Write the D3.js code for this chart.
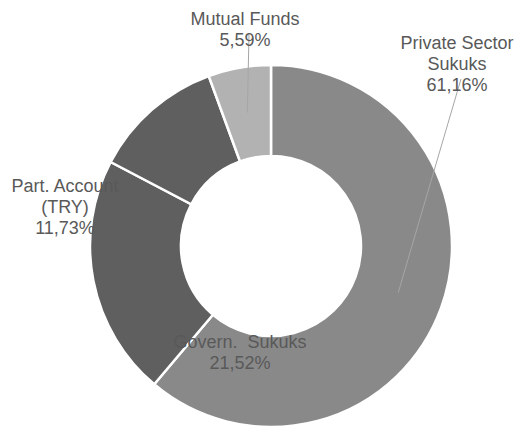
<!DOCTYPE html>
<html>
<head>
<meta charset="utf-8">
<script src="https://cdn.jsdelivr.net/npm/d3@7"></script>
<style>
  body { margin: 0; background: #ffffff; }
  svg { display: block; }
  .lbl { font-family: Arial, "Liberation Sans", sans-serif; font-size: 18px; fill: #595959; white-space: pre; }
</style>
</head>
<body>
<div id="chart"></div>
<script>
// Portfolio shares, clockwise from 12 o'clock
const categories = ['Private Sector Sukuks', 'Govern. Sukuks', 'Part. Account (TRY)', 'Mutual Funds'];
const labelLines = [['Private Sector', 'Sukuks'], ['Govern.  Sukuks'], ['Part. Account', '(TRY)'], ['Mutual Funds']];
const values = [61.16, 21.52, 11.73, 5.59];

const width = 519, height = 430;
const cx = 271, cy = 246;
const outerR = 181, innerR = 90;

const colors = ['#898989', '#5f5f5f', '#5f5f5f', '#b2b2b2'];

// label anchor (x of text centre, y of first baseline) and whether a leader line is drawn
const labelLayout = [
  { x: 457, y: 49, leader: true },
  { x: 240, y: 348, leader: false },
  { x: 65, y: 192, leader: false },
  { x: 245, y: 25, leader: true }
];
const lineGap = 21;

const loc = d3.formatLocale({ decimal: ',', thousands: '.', grouping: [3], currency: ['', ''] });
const fmt = d => loc.format('.2f')(d) + '%';

const data = categories.map((c, i) => ({ name: c, lines: labelLines[i], value: values[i] }));

const svg = d3.select('#chart').append('svg')
  .attr('width', width)
  .attr('height', height);

const g = svg.append('g').attr('transform', `translate(${cx},${cy})`);

const pie = d3.pie().sort(null).value(d => d.value);
const arc = d3.arc().innerRadius(innerR).outerRadius(outerR);
const arcs = pie(data);

g.selectAll('path.slice')
  .data(arcs)
  .enter()
  .append('path')
  .attr('class', 'slice')
  .attr('d', arc)
  .attr('fill', (d, i) => colors[i])
  .attr('stroke', '#ffffff')
  .attr('stroke-width', 2.5);

// leader lines from the slice centroid up to the label
arcs.forEach((d, i) => {
  const lay = labelLayout[i];
  if (!lay.leader) return;
  const [px, py] = arc.centroid(d);
  const lastBase = lay.y + lineGap * d.data.lines.length;
  svg.append('line')
    .attr('x1', cx + px)
    .attr('y1', cy + py)
    .attr('x2', lay.x + 4)
    .attr('y2', lastBase - 12)
    .attr('stroke', '#a6a6a6')
    .attr('stroke-width', 1);
});

// labels
arcs.forEach((d, i) => {
  const lay = labelLayout[i];
  const t = svg.append('text')
    .attr('class', 'lbl')
    .attr('text-anchor', 'middle');
  const lines = d.data.lines.concat([fmt(d.data.value)]);
  lines.forEach((s, k) => {
    t.append('tspan')
      .attr('x', lay.x)
      .attr('y', lay.y + k * lineGap)
      .text(s);
  });
});
</script>
</body>
</html>
